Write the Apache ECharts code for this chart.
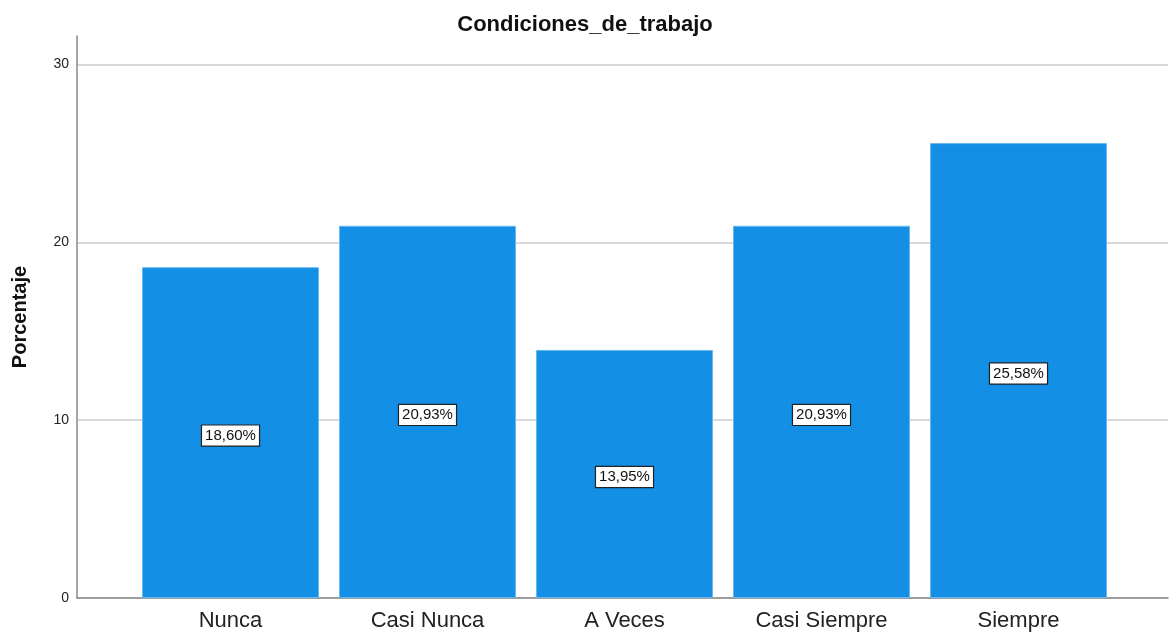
<!DOCTYPE html>
<html>
<head>
<meta charset="utf-8">
<script src="https://cdn.jsdelivr.net/npm/echarts@6/dist/echarts.min.js"></script>
<style>
  html, body { margin: 0; padding: 0; background: #fff; }
  #chart { width: 1170px; height: 635px; }
</style>
</head>
<body>
<div id="chart"></div>
<script>
const categories = ['Nunca', 'Casi Nunca', 'A Veces', 'Casi Siempre', 'Siempre']
const percentages = [18.60, 20.93, 13.95, 20.93, 25.58]
const yTicks = [0, 10, 20, 30]

const chart = echarts.init(document.getElementById('chart'))
const fmt = v => v.toFixed(2).replace('.', ',') + '%'

chart.setOption({
  animation: false,
  title: {
    text: 'Condiciones_de_trabajo',
    left: 'center',
    top: 9,
    textStyle: { fontFamily: 'Liberation Sans', fontSize: 22, fontWeight: 'bold', color: '#111' }
  },
  grid: [
    // full frame: y axis, gridlines, baseline
    { left: 77, right: 2, top: 36, bottom: 37 },
    // bars
    { left: 132, right: 53, top: 36, bottom: 37 }
  ],
  xAxis: [
    {
      gridIndex: 0, type: 'value', min: 0, max: 1,
      axisLine: { show: true, lineStyle: { color: '#888', width: 1.5 } },
      axisTick: { show: false }, axisLabel: { show: false }, splitLine: { show: false }
    },
    {
      gridIndex: 1, type: 'category', data: categories,
      axisLine: { show: false }, axisTick: { show: false },
      axisLabel: { fontFamily: 'Liberation Sans', fontSize: 22, color: '#222', margin: 12 }
    }
  ],
  yAxis: [
    {
      gridIndex: 0, type: 'value', min: 0, max: 31.6, interval: 10,
      name: 'Porcentaje', nameLocation: 'middle', nameGap: 47,
      nameTextStyle: { fontFamily: 'Liberation Sans', fontSize: 20, fontWeight: 'bold', color: '#111' },
      axisLine: { show: true, lineStyle: { color: '#888', width: 1.5 } },
      axisTick: { show: false },
      axisLabel: {
        fontFamily: 'Liberation Sans', fontSize: 14, color: '#222', margin: 8,
        formatter: v => yTicks.includes(v) ? String(v) : ''
      },
      splitLine: {
        show: true,
        lineStyle: { color: ['#ccc', '#ccc', '#ccc', '#ccc', 'rgba(0,0,0,0)'], width: 1.5 }
      }
    },
    {
      gridIndex: 1, type: 'value', min: 0, max: 31.6, show: false
    }
  ],
  series: [
    {
      type: 'bar', xAxisIndex: 1, yAxisIndex: 1,
      data: percentages,
      barWidth: 177,
      itemStyle: { color: '#1390e6', borderColor: '#6ab8f0', borderWidth: 1 },
      label: {
        show: true, position: 'inside', offset: [0, 3],
        formatter: p => fmt(p.value),
        fontFamily: 'Liberation Sans', fontSize: 15, color: '#111',
        backgroundColor: '#fff', borderColor: '#222', borderWidth: 1.2,
        padding: [3, 3, 2, 3]
      }
    }
  ]
})
</script>
</body>
</html>
